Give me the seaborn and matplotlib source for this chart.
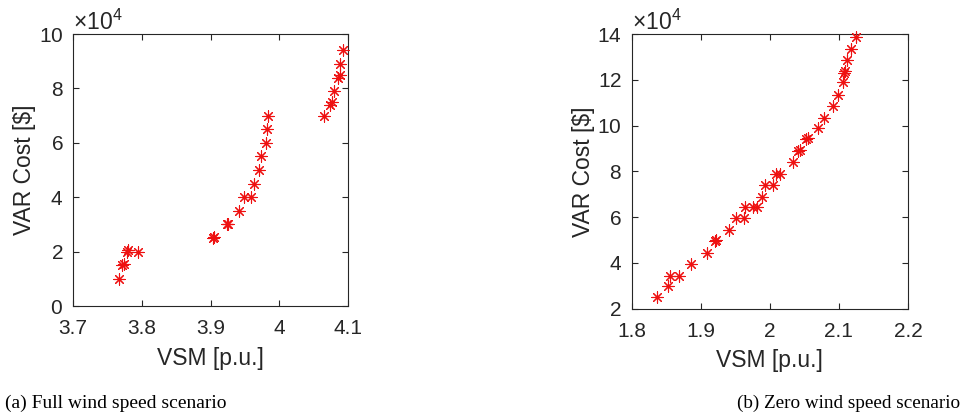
import numpy as np
import pandas as pd
import matplotlib
matplotlib.use("Agg")
import matplotlib.pyplot as plt
import seaborn as sns
from matplotlib.ticker import ScalarFormatter, FuncFormatter, FixedLocator

# ---- data (VSM in p.u., VAR cost in $) ----
vsm_full = [3.767, 3.772, 3.774, 3.778, 3.780, 3.795, 3.903, 3.905, 3.924, 3.926,
            3.941, 3.948, 3.959, 3.963, 3.971, 3.974, 3.981, 3.982, 3.984,
            4.065, 4.074, 4.076, 4.080, 4.086, 4.088, 4.089, 4.093]
cost_full = [10000, 15000, 15500, 20000, 20500, 20000, 25000, 25200, 30000, 30200,
             35000, 40000, 40000, 45000, 50000, 55000, 60000, 65000, 70000,
             70000, 74000, 75000, 79000, 84000, 85000, 89000, 94000]

vsm_zero = [1.836, 1.852, 1.856, 1.869, 1.886, 1.909, 1.921, 1.922, 1.941, 1.951,
            1.963, 1.964, 1.976, 1.981, 1.989, 1.993, 2.005, 2.009, 2.015, 2.033,
            2.041, 2.043, 2.053, 2.055, 2.070, 2.078, 2.092, 2.099, 2.106, 2.108,
            2.109, 2.112, 2.118, 2.124]
cost_zero = [25000, 30000, 34500, 34500, 39500, 44500, 49500, 50000, 54500, 59500,
             59500, 64500, 64500, 64500, 69000, 74000, 74000, 79000, 79000, 84000,
             89000, 89500, 94000, 94500, 99000, 103500, 108500, 113500, 119000, 123000,
             124000, 128500, 133500, 138500]

xticks_full = [3.7, 3.8, 3.9, 4.0, 4.1]
yticks_full = [0, 20000, 40000, 60000, 80000, 100000]
xticks_zero = [1.8, 1.9, 2.0, 2.1, 2.2]
yticks_zero = [20000, 40000, 60000, 80000, 100000, 120000, 140000]

captions = ["(a) Full wind speed scenario", "(b) Zero wind speed scenario"]
xlabel = "VSM [p.u.]"
ylabel = "VAR Cost [$]"

sns.set_style("ticks")
plt.rcParams["font.family"] = ["Liberation Sans", "DejaVu Sans"]
plt.rcParams["mathtext.fontset"] = "custom"
plt.rcParams["mathtext.rm"] = "Liberation Sans"

fig = plt.figure(figsize=(9.65, 4.2), dpi=100)
ax_a = fig.add_axes([73/965, 1-306/420, 275/965, 272/420])
ax_b = fig.add_axes([631.7/965, 1-308.7/420, 276.3/965, 274.7/420])

dark = "#262626"
marker = (8, 2, 0)

def style(ax, xs, ys, vsm, cost):
    df = pd.DataFrame({"vsm": vsm, "cost": cost})
    sns.scatterplot(data=df, x="vsm", y="cost", ax=ax, marker=marker, s=65,
                    color="#ee1111", linewidth=0.8, legend=False, clip_on=False, zorder=3)
    ax.set_xlim(xs[0], xs[-1])
    ax.set_ylim(ys[0], ys[-1])
    ax.xaxis.set_major_locator(FixedLocator(xs))
    ax.yaxis.set_major_locator(FixedLocator(ys))
    ax.xaxis.set_major_formatter(FuncFormatter(lambda v, p: f"{v:g}"))
    fmt = ScalarFormatter(useMathText=True)
    fmt.set_powerlimits((4, 4))
    ax.yaxis.set_major_formatter(fmt)
    ax.yaxis.get_offset_text().set_fontsize(16.5)
    ax.yaxis.get_offset_text().set_color(dark)
    ax.tick_params(direction="in", top=True, right=True, length=4, width=0.8,
                   labelsize=15, colors=dark)
    ax.tick_params(axis="x", pad=9.5)
    ax.tick_params(axis="y", pad=7)
    for sp in ax.spines.values():
        sp.set_visible(True)
        sp.set_color(dark)
        sp.set_linewidth(0.8)
    ax.set_xlabel(xlabel, fontsize=16.5, color=dark, labelpad=6)
    ax.set_ylabel(ylabel, fontsize=16.5, color=dark, labelpad=2)

style(ax_a, xticks_full, yticks_full, vsm_full, cost_full)
style(ax_b, xticks_zero, yticks_zero, vsm_zero, cost_zero)

fig.text(5/965, 1-403/420, captions[0], ha="left", va="center", fontsize=14,
         family=["Liberation Serif", "DejaVu Serif"], color="black")
fig.text(960/965, 1-403/420, captions[1], ha="right", va="center", fontsize=13.8,
         family=["Liberation Serif", "DejaVu Serif"], color="black")

fig.savefig("out.png", dpi=100)
